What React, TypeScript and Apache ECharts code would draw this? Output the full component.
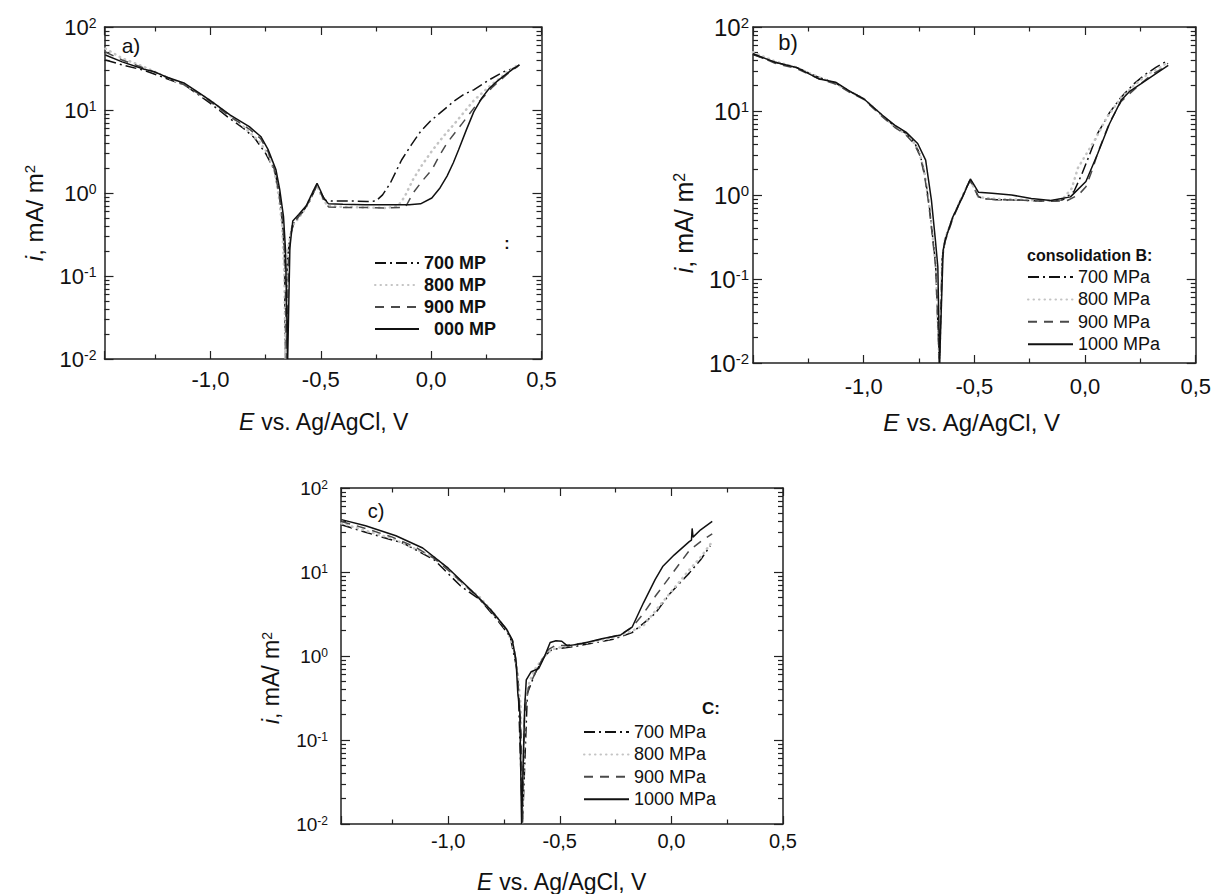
import React, { useEffect, useRef } from 'react';
import * as echarts from 'echarts';

const FONT = "'Liberation Sans', Arial, Helvetica, sans-serif";
const I_MIN = 0.01;
const I_MAX = 100;

// Axis ranges per panel (E in V)
const E_RANGE: [number, number][] = [[-1.48, 0.5], [-1.5, 0.5], [-1.48, 0.5]];

// Legend labels
const LEGEND_A = ['700 MP', '800 MP', '900 MP', '000 MP'];
const LEGEND_BC = ['700 MPa', '800 MPa', '900 MPa', '1000 MPa'];

type P = [number, number][];

// ---- Panel a) ----
const a700: P = [[-1.476, 40], [-1.40, 35], [-1.30, 30], [-1.20, 24], [-1.117, 20], [-1.05, 15], [-1.0, 12], [-0.91, 7.8], [-0.85, 6.0], [-0.80, 4.6], [-0.75, 3.0], [-0.71, 1.9], [-0.69, 1.1], [-0.675, 0.45], [-0.665, 0.2], [-0.66, 0.01], [-0.652, 0.15], [-0.64, 0.3], [-0.62, 0.45], [-0.58, 0.6], [-0.55, 0.8], [-0.53, 1.05], [-0.517, 1.25], [-0.50, 1.0], [-0.48, 0.82], [-0.45, 0.8], [-0.35, 0.8], [-0.29, 0.79], [-0.25, 0.8], [-0.22, 0.95], [-0.186, 1.3], [-0.16, 1.8], [-0.134, 2.5], [-0.09, 3.8], [-0.048, 5.5], [0.0, 7.5], [0.038, 9.1], [0.107, 13], [0.15, 15.5], [0.193, 17.5], [0.262, 23], [0.33, 29], [0.39, 33]];
const a800: P = [[-1.476, 55], [-1.40, 42], [-1.30, 33], [-1.20, 25], [-1.10, 19], [-1.0, 13], [-0.91, 8.5], [-0.85, 6.3], [-0.78, 4.2], [-0.74, 3.0], [-0.71, 1.8], [-0.69, 0.9], [-0.675, 0.4], [-0.665, 0.1], [-0.66, 0.01], [-0.65, 0.2], [-0.63, 0.4], [-0.60, 0.5], [-0.57, 0.65], [-0.53, 1.1], [-0.517, 1.25], [-0.50, 0.95], [-0.47, 0.7], [-0.40, 0.68], [-0.30, 0.67], [-0.20, 0.66], [-0.15, 0.7], [-0.12, 0.9], [-0.083, 1.44], [-0.04, 2.2], [0.003, 3.2], [0.055, 4.8], [0.107, 6.9], [0.193, 13], [0.262, 19], [0.348, 29], [0.40, 36]];
const a900: P = [[-1.476, 50], [-1.40, 40], [-1.30, 32], [-1.20, 25], [-1.117, 20], [-1.05, 15.5], [-1.0, 12.5], [-0.91, 8.3], [-0.824, 5.9], [-0.772, 4.5], [-0.738, 3.1], [-0.71, 1.9], [-0.69, 1.0], [-0.672, 0.45], [-0.662, 0.15], [-0.656, 0.01], [-0.645, 0.18], [-0.63, 0.4], [-0.60, 0.52], [-0.566, 0.68], [-0.531, 1.05], [-0.517, 1.25], [-0.50, 1.0], [-0.485, 0.8], [-0.465, 0.68], [-0.40, 0.67], [-0.30, 0.67], [-0.20, 0.66], [-0.117, 0.67], [-0.083, 0.99], [-0.04, 1.4], [0.003, 1.9], [0.04, 2.9], [0.072, 4.0], [0.141, 6.9], [0.21, 12], [0.279, 19], [0.348, 27.5], [0.40, 35]];
const a1000: P = [[-1.476, 46], [-1.40, 38], [-1.30, 31], [-1.255, 29], [-1.20, 25], [-1.117, 21], [-1.05, 16], [-1.0, 13], [-0.91, 8.7], [-0.824, 6.3], [-0.772, 4.8], [-0.738, 3.3], [-0.703, 1.9], [-0.686, 1.1], [-0.669, 0.52], [-0.66, 0.21], [-0.65, 0.01], [-0.64, 0.22], [-0.627, 0.46], [-0.60, 0.55], [-0.566, 0.7], [-0.531, 1.1], [-0.517, 1.31], [-0.50, 1.05], [-0.488, 0.88], [-0.465, 0.74], [-0.40, 0.73], [-0.30, 0.72], [-0.20, 0.72], [-0.10, 0.72], [-0.048, 0.74], [0.003, 0.87], [0.04, 1.15], [0.072, 1.6], [0.10, 2.3], [0.124, 3.3], [0.16, 5.8], [0.193, 9.5], [0.23, 14], [0.262, 18], [0.297, 22], [0.331, 26], [0.37, 31], [0.40, 35]];

// ---- Panel b) ----
const b700: P = [[-1.5, 47], [-1.40, 38], [-1.304, 33], [-1.20, 25], [-1.127, 21.5], [-1.06, 17], [-1.0, 14], [-0.915, 8.7], [-0.86, 6.6], [-0.809, 5.4], [-0.77, 4.2], [-0.745, 3.0], [-0.725, 1.8], [-0.705, 0.8], [-0.69, 0.35], [-0.675, 0.15], [-0.658, 0.01], [-0.645, 0.18], [-0.632, 0.3], [-0.60, 0.52], [-0.56, 0.9], [-0.52, 1.5], [-0.50, 1.2], [-0.482, 0.95], [-0.45, 0.9], [-0.40, 0.88], [-0.30, 0.87], [-0.20, 0.85], [-0.15, 0.84], [-0.10, 0.88], [-0.05, 1.1], [-0.014, 1.78], [0.02, 3.0], [0.057, 5.4], [0.11, 9.5], [0.163, 14.6], [0.22, 21], [0.27, 27], [0.32, 33], [0.375, 40]];
const b800: P = [[-1.5, 50], [-1.40, 39], [-1.304, 33], [-1.20, 25], [-1.127, 21], [-1.06, 17], [-1.0, 14], [-0.915, 8.8], [-0.86, 6.5], [-0.809, 5.3], [-0.77, 4.1], [-0.745, 3.0], [-0.725, 1.8], [-0.705, 0.8], [-0.69, 0.35], [-0.675, 0.15], [-0.658, 0.01], [-0.645, 0.18], [-0.632, 0.3], [-0.60, 0.52], [-0.56, 0.9], [-0.52, 1.5], [-0.50, 1.2], [-0.482, 0.95], [-0.45, 0.92], [-0.40, 0.9], [-0.30, 0.88], [-0.20, 0.86], [-0.15, 0.85], [-0.10, 0.9], [-0.06, 1.2], [-0.032, 2.1], [0.0, 2.9], [0.05, 4.8], [0.10, 8.5], [0.16, 14], [0.22, 20], [0.28, 27], [0.33, 32], [0.375, 38]];
const b900: P = [[-1.5, 48], [-1.40, 37], [-1.304, 32], [-1.20, 24], [-1.127, 21], [-1.06, 16.5], [-1.0, 13.8], [-0.915, 8.5], [-0.86, 6.4], [-0.809, 5.2], [-0.77, 4.0], [-0.745, 2.9], [-0.725, 1.7], [-0.705, 0.75], [-0.69, 0.33], [-0.675, 0.14], [-0.658, 0.01], [-0.645, 0.17], [-0.632, 0.28], [-0.60, 0.5], [-0.56, 0.88], [-0.52, 1.48], [-0.50, 1.2], [-0.482, 0.96], [-0.45, 0.9], [-0.40, 0.88], [-0.30, 0.87], [-0.20, 0.85], [-0.15, 0.84], [-0.08, 0.86], [-0.03, 1.0], [0.004, 1.25], [0.03, 1.9], [0.06, 3.3], [0.11, 7.2], [0.163, 13], [0.25, 21], [0.30, 27], [0.34, 31], [0.375, 37]];
const b1000: P = [[-1.5, 48], [-1.40, 38], [-1.304, 33], [-1.20, 24], [-1.127, 22], [-1.06, 17], [-1.0, 14], [-0.915, 8.9], [-0.86, 6.8], [-0.809, 5.6], [-0.756, 4.1], [-0.72, 2.6], [-0.694, 0.87], [-0.676, 0.29], [-0.665, 0.14], [-0.657, 0.01], [-0.641, 0.22], [-0.632, 0.29], [-0.597, 0.55], [-0.553, 0.95], [-0.518, 1.55], [-0.50, 1.3], [-0.482, 1.08], [-0.42, 1.05], [-0.332, 1.0], [-0.243, 0.91], [-0.155, 0.86], [-0.066, 0.95], [0.004, 1.45], [0.057, 3.1], [0.11, 7], [0.163, 13.4], [0.20, 17], [0.252, 21], [0.322, 28], [0.376, 35]];

// ---- Panel c) ----
const c700: P = [[-1.478, 36.6], [-1.37, 29.7], [-1.2, 22], [-1.063, 14], [-0.944, 6.8], [-0.858, 4.7], [-0.79, 2.9], [-0.722, 1.7], [-0.688, 0.62], [-0.667, 0.01], [-0.645, 0.36], [-0.611, 0.62], [-0.568, 1.0], [-0.534, 1.2], [-0.432, 1.3], [-0.261, 1.58], [-0.176, 1.9], [-0.125, 2.45], [-0.073, 3.2], [-0.005, 5.6], [0.08, 9.7], [0.131, 14], [0.174, 20.5]];
const c800: P = [[-1.478, 38], [-1.37, 31], [-1.25, 25], [-1.15, 19], [-1.063, 15], [-1.0, 11], [-0.944, 7.5], [-0.858, 5.0], [-0.79, 3.1], [-0.735, 2.0], [-0.705, 1.2], [-0.688, 0.6], [-0.675, 0.25], [-0.668, 0.01], [-0.655, 0.3], [-0.635, 0.5], [-0.611, 0.7], [-0.568, 1.0], [-0.534, 1.2], [-0.48, 1.3], [-0.40, 1.4], [-0.30, 1.55], [-0.227, 1.75], [-0.176, 2.0], [-0.125, 2.3], [-0.056, 3.9], [0.012, 6.4], [0.08, 10.6], [0.131, 15], [0.183, 23]];
const c900: P = [[-1.478, 40], [-1.37, 33], [-1.25, 26], [-1.15, 20], [-1.063, 14.5], [-1.0, 10.5], [-0.92, 6.8], [-0.85, 4.5], [-0.79, 3.0], [-0.74, 2.1], [-0.71, 1.5], [-0.695, 0.8], [-0.683, 0.35], [-0.673, 0.12], [-0.668, 0.01], [-0.658, 0.2], [-0.64, 0.42], [-0.611, 0.62], [-0.58, 0.9], [-0.55, 1.2], [-0.517, 1.35], [-0.48, 1.33], [-0.40, 1.42], [-0.312, 1.58], [-0.227, 1.8], [-0.176, 2.2], [-0.125, 3.2], [-0.073, 5.1], [-0.005, 8.9], [0.08, 18], [0.131, 23], [0.183, 28.5]];
const c1000: P = [[-1.478, 42], [-1.37, 35.6], [-1.234, 27], [-1.114, 19.3], [-1.0, 11.1], [-0.892, 5.9], [-0.807, 3.5], [-0.739, 2.1], [-0.713, 1.56], [-0.696, 0.9], [-0.688, 0.36], [-0.679, 0.22], [-0.671, 0.01], [-0.657, 0.25], [-0.65, 0.52], [-0.628, 0.65], [-0.594, 0.71], [-0.568, 0.99], [-0.543, 1.45], [-0.517, 1.52], [-0.491, 1.5], [-0.466, 1.32], [-0.398, 1.41], [-0.312, 1.6], [-0.227, 1.78], [-0.176, 2.2], [-0.125, 4.3], [-0.073, 8.1], [-0.039, 11.6], [0.012, 15.9], [0.08, 23], [0.09, 24], [0.093, 33], [0.097, 26], [0.131, 31.8], [0.183, 40]];

const STYLE: Record<string, any> = {
  '700': { color: '#111', width: 1.5, type: [11, 4, 2, 4] },
  '800': { color: '#c4c4c4', width: 2.5, type: [0.5, 5], cap: 'round' },
  '900': { color: '#4a4a4a', width: 1.5, type: [9, 7] },
  '1000': { color: '#111', width: 1.5, type: 'solid' },
};

const GRIDS = [
  { left: 104.5, top: 27, width: 437, height: 332 },
  { left: 753, top: 27, width: 443, height: 336 },
  { left: 341, top: 488, width: 442, height: 336 },
];

const X_FS = [22, 22, 20];
const Y_FS = [22, 24, 19];
const Y_MARGIN = [8, 4, 13];
const X_MARGIN = [9, 12, 7];

function App() {
  const ref = useRef<HTMLDivElement>(null);
  useEffect(() => {
    if (!ref.current) return;
    const chart = echarts.init(ref.current, null, { renderer: 'svg' });

    const panels = [
      { names: LEGEND_A, data: [a700, a800, a900, a1000] },
      { names: LEGEND_BC, data: [b700, b800, b900, b1000] },
      { names: LEGEND_BC, data: [c700, c800, c900, c1000] },
    ];
    const keys = ['700', '800', '900', '1000'];
    const tickStyle = { color: '#222', width: 1.2 };
    const lineSt = { show: true, onZero: false, lineStyle: { color: '#222', width: 1.5 } };

    const xAxis: any[] = [];
    GRIDS.forEach((_, i) => {
      xAxis.push({
        type: 'value', gridIndex: i, min: E_RANGE[i][0], max: E_RANGE[i][1], splitNumber: 4,
        position: 'bottom',
        axisLine: lineSt,
        axisTick: { inside: true, length: 8, lineStyle: tickStyle },
        minorTick: { show: true, splitNumber: 2, length: 4.5, lineStyle: tickStyle },
        splitLine: { show: false },
        axisLabel: {
          showMinLabel: false, margin: X_MARGIN[i], color: '#111', fontFamily: FONT, fontSize: X_FS[i],
          formatter: (v: number) => (Math.abs(v) < 1e-9 ? '0,0' : v.toFixed(1).replace('.', ',')),
        },
      });
    });
    GRIDS.forEach((_, i) => {
      xAxis.push({
        type: 'value', gridIndex: i, min: E_RANGE[i][0], max: E_RANGE[i][1], splitNumber: 4,
        position: 'top',
        axisLine: lineSt,
        axisTick: { inside: true, length: 8, lineStyle: tickStyle },
        minorTick: { show: true, splitNumber: 2, length: 4.5, lineStyle: tickStyle },
        splitLine: { show: false },
        axisLabel: { show: false },
      });
    });

    const yAxis: any[] = [];
    GRIDS.forEach((_, i) => {
      yAxis.push({
        type: 'log', logBase: 10, gridIndex: i, min: I_MIN, max: I_MAX, splitNumber: 4,
        position: 'left',
        axisLine: lineSt,
        axisTick: { inside: true, length: 9, lineStyle: tickStyle },
        minorTick: { show: true, splitNumber: 9, length: 5, lineStyle: tickStyle },
        splitLine: { show: false },
        axisLabel: {
          margin: Y_MARGIN[i],
          formatter: (v: number) => `{b|10}{s|${Math.round(Math.log10(v))}}`,
          rich: {
            b: { fontSize: Y_FS[i], fontFamily: FONT, color: '#111' },
            s: { fontSize: Math.round(Y_FS[i] * 0.62), fontFamily: FONT, color: '#111', verticalAlign: 'top' },
          },
        },
      });
    });
    GRIDS.forEach((_, i) => {
      yAxis.push({
        type: 'log', logBase: 10, gridIndex: i, min: I_MIN, max: I_MAX, splitNumber: 4,
        position: 'right',
        axisLine: lineSt,
        axisTick: { inside: true, length: 9, lineStyle: tickStyle },
        minorTick: { show: true, splitNumber: 9, length: 5, lineStyle: tickStyle },
        splitLine: { show: false },
        axisLabel: { show: false },
      });
    });

    const series: any[] = [];
    const drawOrder = [1, 2, 0, 3];
    panels.forEach((p, i) => {
      drawOrder.forEach((k) => {
        const st = STYLE[keys[k]];
        series.push({
          type: 'line', name: p.names[k], xAxisIndex: i, yAxisIndex: i,
          data: p.data[k], showSymbol: false, symbol: 'none', smooth: false,
          lineStyle: { color: st.color, width: st.width, type: st.type, cap: st.cap || 'butt' },
          itemStyle: { color: st.color },
          z: 3 + k,
        });
      });
    });

    const legendCommon = {
      orient: 'vertical', selectedMode: false, itemHeight: 14, padding: 0,
      itemStyle: { opacity: 0 },
    };

    const richTitle = (size: number) => ({
      it: { fontStyle: 'italic', fontSize: size, fontFamily: FONT, fill: '#111', color: '#111' },
      n: { fontSize: size, fontFamily: FONT, fill: '#111', color: '#111' },
      s: { fontSize: Math.round(size * 0.62), fontFamily: FONT, fill: '#111', color: '#111', verticalAlign: 'top' },
    });
    const txt = (x: number, y: number, text: string, font: string, align = 'center') => ({
      type: 'text', x, y, silent: true,
      style: { text, font, fill: '#111', align, verticalAlign: 'middle' },
    });

    const graphic: any[] = [
      txt(131, 45, 'a)', `21px ${FONT}`),
      txt(788, 42, 'b)', `22px ${FONT}`),
      txt(376, 511, 'c)', `20px ${FONT}`),
      txt(507, 243, ':', `bold 16px ${FONT}`),
      txt(1027, 255, 'consolidation B:', `bold 16px ${FONT}`, 'left'),
      txt(711, 708, 'C:', `bold 17px ${FONT}`),
      // axis titles
      { type: 'text', x: 324, y: 422, silent: true, style: { text: '{it|E}{n| vs. Ag/AgCl, V}', rich: richTitle(23), align: 'center', verticalAlign: 'middle' } },
      { type: 'text', x: 972, y: 422, silent: true, style: { text: '{it|E}{n| vs. Ag/AgCl, V}', rich: richTitle(24), align: 'center', verticalAlign: 'middle' } },
      { type: 'text', x: 562, y: 882, silent: true, style: { text: '{it|E}{n| vs. Ag/AgCl, V}', rich: richTitle(23), align: 'center', verticalAlign: 'middle' } },
      { type: 'text', x: 34, y: 213, rotation: Math.PI / 2, silent: true, style: { text: '{it|i}{n|, mA/ m}{s|2}', rich: richTitle(24), align: 'center', verticalAlign: 'middle' } },
      { type: 'text', x: 684, y: 223, rotation: Math.PI / 2, silent: true, style: { text: '{it|i}{n|, mA/ m}{s|2}', rich: richTitle(25), align: 'center', verticalAlign: 'middle' } },
      { type: 'text', x: 271, y: 678, rotation: Math.PI / 2, silent: true, style: { text: '{it|i}{n|, mA/ m}{s|2}', rich: richTitle(23), align: 'center', verticalAlign: 'middle' } },
    ];

    chart.setOption({
      animation: false,
      backgroundColor: '#ffffff',
      grid: GRIDS.map((g) => ({ ...g, show: false, containLabel: false })),
      xAxis,
      yAxis,
      legend: [
        {
          ...legendCommon, data: LEGEND_A, left: 374, top: 254, itemWidth: 44, itemGap: 4,
          textStyle: { fontFamily: FONT, fontSize: 18, fontWeight: 'bold', color: '#111', rich: { g: { width: 10 } } },
          formatter: (name: string) => (name === '000 MP' ? '{g|}000 MP' : name),
        },
        {
          ...legendCommon, data: LEGEND_BC, left: 1027, top: 268, itemWidth: 45, itemGap: 4.4,
          textStyle: { fontFamily: FONT, fontSize: 18, color: '#111' },
        },
        {
          ...legendCommon, data: LEGEND_BC, left: 583, top: 723, itemWidth: 45, itemGap: 4.4,
          textStyle: { fontFamily: FONT, fontSize: 18, color: '#111' },
        },
      ],
      series,
      graphic,
    });
    return () => chart.dispose();
  }, []);

  return (
    <div
      ref={ref}
      style={{ position: 'fixed', left: 0, top: 0, width: 1214, height: 894, background: '#fff' }}
    />
  );
}

export default App;
